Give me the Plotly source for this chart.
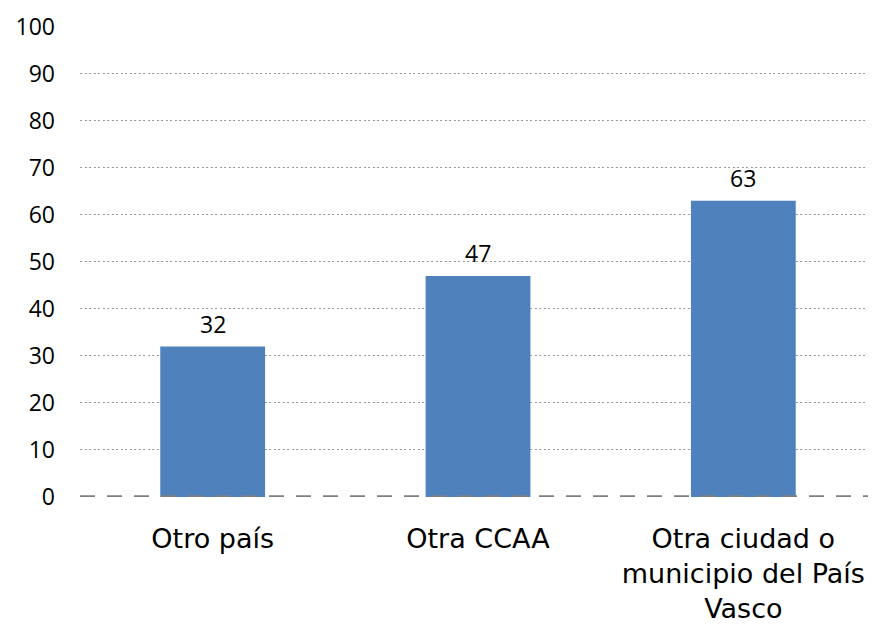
import plotly.graph_objects as go

categories = ["Otro país", "Otra CCAA", "Otra ciudad o<br>municipio del País<br>Vasco"]
values = [32, 47, 63]
y_ticks = [0, 10, 20, 30, 40, 50, 60, 70, 80, 90, 100]

NUM_FONT = "Open Sans"
CAT_FONT = "DejaVu Sans"

fig = go.Figure(go.Bar(
    x=categories,
    y=values,
    marker=dict(color="#4F81BD", line=dict(width=0)),
    width=0.395,
    cliponaxis=False,
))

for c, v in zip(categories, values):
    fig.add_annotation(x=c, y=v, text=str(v), showarrow=False,
                       yanchor="bottom", yshift=5,
                       font=dict(family=NUM_FONT, size=23, color="#000000"))

fig.add_shape(type="line", xref="paper", yref="y", x0=0, x1=1, y0=0, y1=0,
              line=dict(color="#808080", width=3.5, dash="15px,12px"))

# page body has an 8px default margin, so the figure is sized to fill the rest
fig.update_layout(
    width=868, height=619,
    margin=dict(l=72, r=0, t=18, b=130, autoexpand=False),
    paper_bgcolor="white", plot_bgcolor="white",
    showlegend=False,
    font=dict(family=NUM_FONT, color="#000000"),
)
fig.update_yaxes(
    range=[0, 100.2], tickvals=y_ticks, showgrid=True, gridcolor="#999999",
    gridwidth=1, griddash="2px,2.5px", zeroline=False, showline=False,
    tickfont=dict(family=NUM_FONT, size=23, color="#000000"),
    ticklabelstandoff=24, automargin=False,
)
fig.update_xaxes(
    showgrid=False, zeroline=False, showline=False,
    tickfont=dict(family=CAT_FONT, size=27, color="#000000"),
    ticklabelstandoff=23, automargin=False,
)

fig.write_html("out.html")
